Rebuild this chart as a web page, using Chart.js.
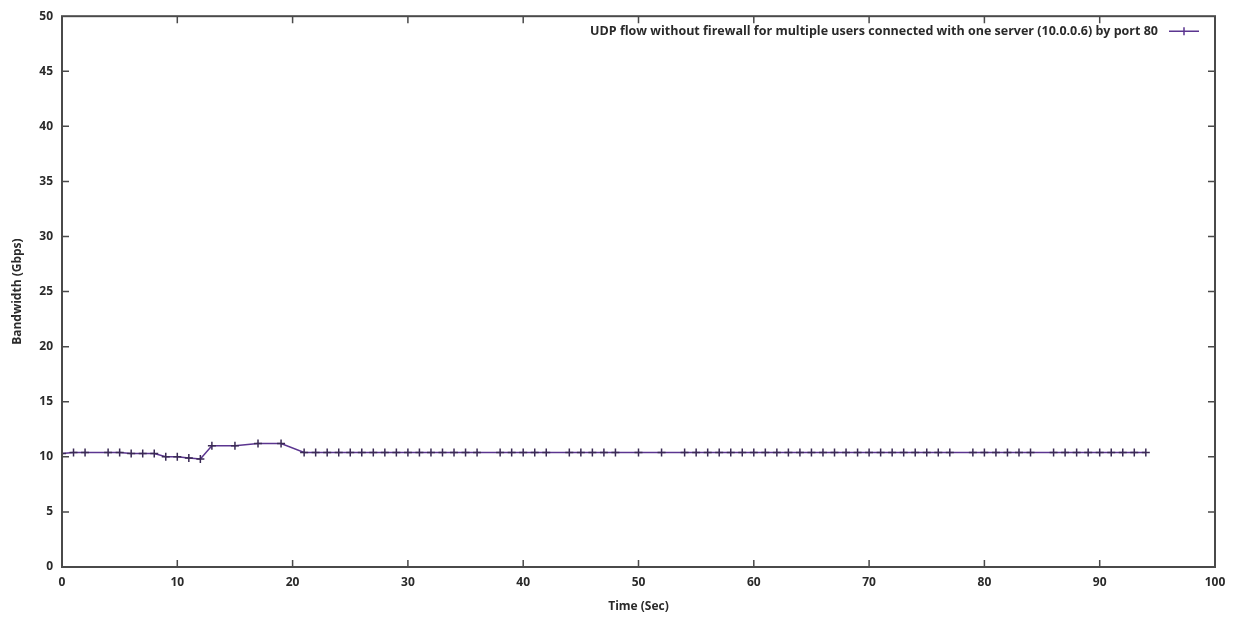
<!DOCTYPE html>
<html>
<head>
<meta charset="utf-8">
<script src="https://cdn.jsdelivr.net/npm/chart.js@4"></script>
<style>
  html, body { margin: 0; padding: 0; background: #fff; }
  #wrap { width: 1237px; height: 618px; position: relative; }
</style>
</head>
<body>
<div id="wrap"><canvas id="bwChart"></canvas></div>
<script>
const seriesLabel = "UDP flow without firewall for multiple users connected with one server (10.0.0.6) by port 80";
const timeSec = [0, 1, 2, 4, 5, 6, 7, 8, 9, 10, 11, 12, 13, 15, 17, 19,
  21, 22, 23, 24, 25, 26, 27, 28, 29, 30, 31, 32, 33, 34, 35, 36,
  38, 39, 40, 41, 42, 44, 45, 46, 47, 48, 50, 52,
  54, 55, 56, 57, 58, 59, 60, 61, 62, 63, 64, 65, 66, 67, 68, 69, 70,
  71, 72, 73, 74, 75, 76, 77, 79, 80, 81, 82, 83, 84,
  86, 87, 88, 89, 90, 91, 92, 93, 94];
const bandwidth = [10.3, 10.4, 10.4, 10.4, 10.4, 10.3, 10.3, 10.3, 10.0, 10.0, 9.9, 9.8, 11.0, 11.0, 11.2, 11.2,
  10.4, 10.4, 10.4, 10.4, 10.4, 10.4, 10.4, 10.4, 10.4, 10.4, 10.4, 10.4, 10.4, 10.4, 10.4, 10.4,
  10.4, 10.4, 10.4, 10.4, 10.4, 10.4, 10.4, 10.4, 10.4, 10.4, 10.4, 10.4,
  10.4, 10.4, 10.4, 10.4, 10.4, 10.4, 10.4, 10.4, 10.4, 10.4, 10.4, 10.4, 10.4, 10.4, 10.4, 10.4, 10.4,
  10.4, 10.4, 10.4, 10.4, 10.4, 10.4, 10.4, 10.4, 10.4, 10.4, 10.4, 10.4, 10.4,
  10.4, 10.4, 10.4, 10.4, 10.4, 10.4, 10.4, 10.4, 10.4];

const lineColor = "#5b3590";
const frameColor = "#4a4a4a";
const textFont = "'Open Sans', sans-serif";

Chart.defaults.font.family = textFont;
Chart.defaults.font.size = 12;
Chart.defaults.font.weight = "bold";
Chart.defaults.color = "#2a2a2a";

// gnuplot-style box: frame, inward ticks mirrored on all sides, legend inside top-right
const gnuplotFrame = {
  id: "gnuplotFrame",
  afterDatasetsDraw(chart) {
    const { ctx, chartArea: a, scales } = chart;
    const tick = 7;
    ctx.save();
    ctx.strokeStyle = frameColor;
    ctx.lineWidth = 1.5;
    ctx.beginPath();
    scales.x.ticks.forEach(t => {
      const px = scales.x.getPixelForValue(t.value);
      if (px <= a.left + 1 || px >= a.right - 1) return;
      ctx.moveTo(px, a.bottom); ctx.lineTo(px, a.bottom - tick);
      ctx.moveTo(px, a.top); ctx.lineTo(px, a.top + tick);
    });
    scales.y.ticks.forEach(t => {
      const py = scales.y.getPixelForValue(t.value);
      if (py <= a.top + 1 || py >= a.bottom - 1) return;
      ctx.moveTo(a.left, py); ctx.lineTo(a.left + tick, py);
      ctx.moveTo(a.right, py); ctx.lineTo(a.right - tick, py);
    });
    ctx.stroke();
    ctx.lineWidth = 2;
    ctx.strokeRect(a.left, a.top, a.right - a.left, a.bottom - a.top);

    // legend
    const ly = a.top + 15;
    const textRight = a.right - 57;
    ctx.font = "bold 12.5px " + textFont;
    ctx.fillStyle = "#2a2a2a";
    ctx.textAlign = "right";
    ctx.textBaseline = "middle";
    ctx.fillText(seriesLabel, textRight, ly);
    const x0 = textRight + 11, x1 = textRight + 41;
    ctx.strokeStyle = lineColor;
    ctx.lineWidth = 1.5;
    ctx.beginPath();
    ctx.moveTo(x0, ly); ctx.lineTo(x1, ly);
    const mx = (x0 + x1) / 2;
    ctx.moveTo(mx, ly - 4); ctx.lineTo(mx, ly + 4);
    ctx.stroke();
    ctx.restore();
  }
};

new Chart(document.getElementById("bwChart"), {
  type: "line",
  data: {
    datasets: [
      {
        label: seriesLabel,
        data: timeSec.map((t, i) => ({ x: t, y: bandwidth[i] })),
        borderColor: lineColor,
        backgroundColor: lineColor,
        borderWidth: 1.5,
        pointStyle: "cross",
        pointRadius: 4,
        pointBorderWidth: 1.5,
        pointBorderColor: "#3a2a55",
        tension: 0,
        fill: false,
      },
    ],
  },
  options: {
    responsive: true,
    maintainAspectRatio: false,
    animation: false,
    layout: { padding: { top: 15, right: 22, left: 0, bottom: 0 } },
    plugins: { legend: { display: false }, tooltip: { enabled: false } },
    scales: {
      x: {
        type: "linear",
        min: 0,
        max: 100,
        grid: { display: false, drawTicks: false },
        border: { display: false },
        ticks: { stepSize: 10, padding: 8, maxRotation: 0 },
        title: { display: true, text: "Time (Sec)", padding: { top: 0, bottom: 4 } },
        afterFit(scale) { scale.height = 51; },
      },
      y: {
        min: 0,
        max: 50,
        grid: { display: false, drawTicks: false },
        border: { display: false },
        ticks: { stepSize: 5, padding: 9 },
        title: { display: true, text: "Bandwidth (Gbps)", padding: { top: 10, bottom: 0 } },
        afterFit(scale) { scale.width = 62; },
      },
    },
  },
  plugins: [gnuplotFrame],
});
</script>
</body>
</html>
